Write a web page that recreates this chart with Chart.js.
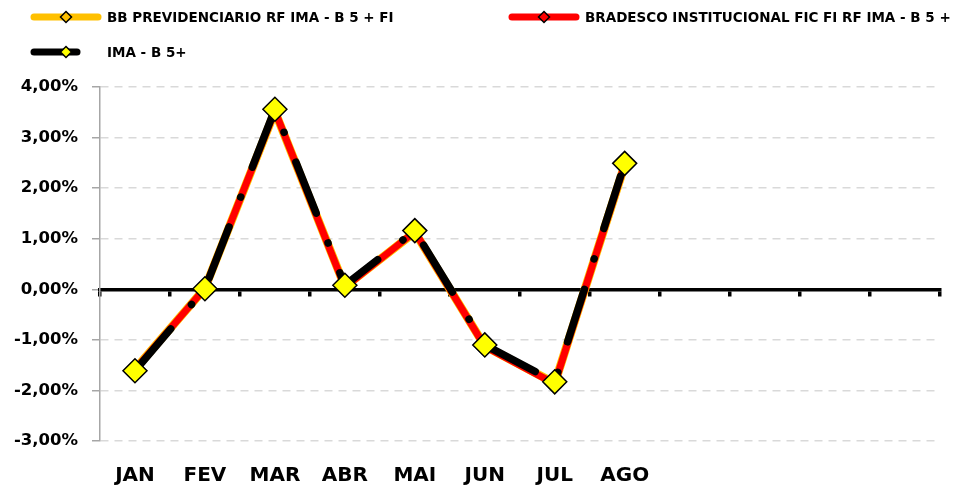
<!DOCTYPE html>
<html><head><meta charset="utf-8">
<script src="https://cdn.jsdelivr.net/npm/chart.js@4.4.0/dist/chart.umd.min.js"></script>
<style>
html,body{margin:0;padding:0;background:#fff;}
#wrap{position:relative;width:953px;height:488px;overflow:hidden;}
#c{position:absolute;left:0;top:0;}
.leg{position:absolute;display:flex;align-items:center;font-family:'DejaVu Sans',sans-serif;font-weight:bold;font-size:13.5px;color:#000;white-space:nowrap;}
.leg svg{margin-right:5px;display:block;}
</style></head>
<body><div id="wrap"><canvas id="c" width="953" height="488"></canvas><div id="legend"></div></div>
<script>
const categories = ['JAN','FEV','MAR','ABR','MAI','JUN','JUL','AGO','','','',''];
const seriesNames = ['BB PREVIDENCIARIO RF IMA - B 5 + FI','BRADESCO INSTITUCIONAL FIC FI RF IMA - B 5 +','IMA - B 5+'];
const bbPrev   = [-1.58, 0.02, 3.52, 0.05, 1.13, -1.12, -1.86, 2.46];
const bradesco = [-1.59, 0.02, 3.53, 0.04, 1.14, -1.13, -1.87, 2.47];
const imaB5    = [-1.61, 0.01, 3.56, 0.08, 1.16, -1.10, -1.83, 2.49];
const yTicks   = [-3, -2, -1, 0, 1, 2, 3, 4];

const colors = ['#FFC000', '#FF0000', '#000000'];

// HTML legend
const legendItems = [
  {name: seriesNames[0], left: 30, top: 8, lineW: 72, fill: '#FFC000', stroke: colors[0]},
  {name: seriesNames[1], left: 508, top: 8, lineW: 72, fill: '#FF0000', stroke: colors[1]},
  {name: seriesNames[2], left: 30, top: 43, lineW: 51, fill: '#FFFF00', stroke: colors[2]}
];
const legEl = document.getElementById('legend');
legendItems.forEach(it => {
  const d = document.createElement('div');
  d.className = 'leg';
  d.style.left = it.left + 'px';
  d.style.top = it.top + 'px';
  d.innerHTML = '<svg width="72" height="18"><line x1="4" y1="9" x2="' + (it.lineW - 4) + '" y2="9" stroke="' + it.stroke +
    '" stroke-width="7" stroke-linecap="round"/><polygon points="36,3.5 41.5,9 36,14.5 30.5,9" fill="' + it.fill +
    '" stroke="#000" stroke-width="1.5"/></svg><span>' + it.name + '</span>';
  legEl.appendChild(d);
});

const fmt = v => v.toFixed(2).replace('.', ',') + '%';

new Chart(document.getElementById('c'), {
  type: 'line',
  data: {
    labels: categories,
    datasets: [
      {label: seriesNames[0], data: bbPrev, borderColor: colors[0], borderWidth: 8.5, pointRadius: 0, tension: 0, order: 3, borderCapStyle: 'round', borderJoinStyle: 'round'},
      {label: seriesNames[1], data: bradesco, borderColor: colors[1], borderWidth: 7, pointRadius: 0, tension: 0, order: 2, borderCapStyle: 'round', borderJoinStyle: 'round'},
      {label: seriesNames[2], data: imaB5, borderColor: colors[2], borderWidth: 7.5, tension: 0, order: 1,
       borderDash: [55, 32, 0.1, 32], borderCapStyle: 'round', borderJoinStyle: 'round',
       pointStyle: 'rectRot', pointRadius: 12, pointHoverRadius: 12, pointBackgroundColor: '#FFFF00', pointBorderColor: '#000', pointBorderWidth: 1.5}
    ]
  },
  options: {
    responsive: false,
    animation: false,
    events: [],
    layout: {padding: {top: 87, right: 10, left: 0, bottom: 0}},
    plugins: {legend: {display: false}, tooltip: {enabled: false}},
    scales: {
      x: {
        type: 'category',
        offset: true,
        grid: {display: false},
        border: {display: false},
        ticks: {color: '#000', font: {family: 'DejaVu Sans', weight: 'bold', size: 20}, padding: 15, maxRotation: 0, autoSkip: false},
        afterFit: s => { s.height = 47; }
      },
      x2: {
        type: 'category',
        labels: categories,
        position: {y: 0},
        offset: true,
        grid: {offset: true, drawOnChartArea: false, drawTicks: true, tickLength: 5, color: '#000', lineWidth: 3.5},
        border: {display: true, color: '#000', width: 3.5},
        ticks: {display: false}
      },
      y: {
        min: -3, max: 4,
        afterBuildTicks: s => { s.ticks = yTicks.map(v => ({value: v})); },
        grid: {
          color: c => (c.tick && c.tick.value === 0) ? 'rgba(0,0,0,0)' : '#d9d9d9',
          lineWidth: 1.5, tickLength: 8, tickColor: '#a6a6a6', tickWidth: 1.5, tickBorderDash: []
        },
        border: {color: '#a6a6a6', width: 1.5, dash: [8, 6]},
        ticks: {color: '#000', font: {family: 'DejaVu Sans', weight: 'bold', size: 16.5}, padding: 14, callback: v => fmt(v)},
        afterFit: s => { s.width = 100; }
      }
    }
  }
});
</script>
</body></html>
